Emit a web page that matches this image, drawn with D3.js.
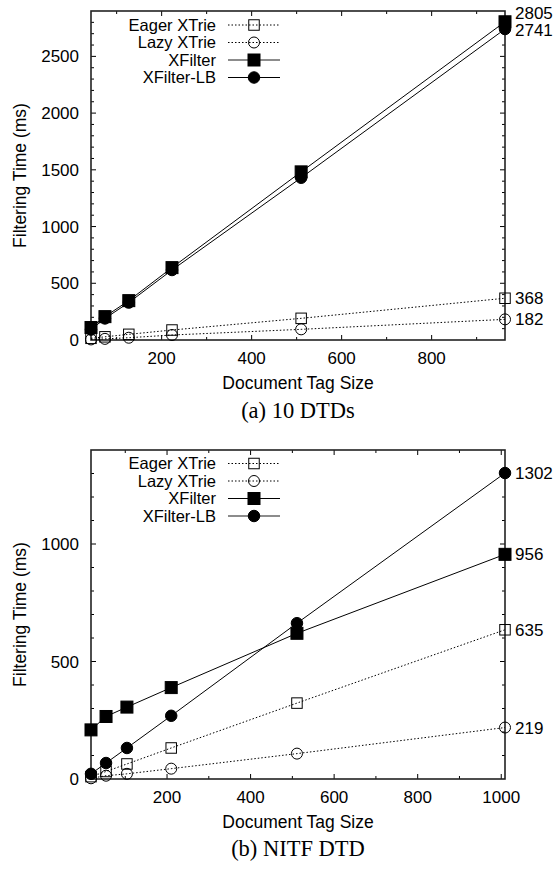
<!DOCTYPE html>
<html><head><meta charset="utf-8">
<script src="https://cdn.jsdelivr.net/npm/d3@7"></script>
<style>
html,body{margin:0;padding:0;background:#fff;}
svg{display:block;}
text{fill:#000;}
</style></head>
<body>
<svg id="chart" width="556" height="869"></svg>
<script>
// ---- data ----
const seriesNames = ["Eager XTrie", "Lazy XTrie", "XFilter", "XFilter-LB"];

const tagSizesA = [43, 74, 127, 223, 510, 963];
const eagerA = [15, 28, 50, 88, 191, 368];
const lazyA = [5, 10, 20, 44, 94, 182];
const xfilterA = [110, 206, 347, 638, 1482, 2805];
const xfilterLBA = [92, 190, 330, 617, 1430, 2741];
const yTicksA = [0, 500, 1000, 1500, 2000, 2500];
const xTicksA = [200, 400, 600, 800];

const tagSizesB = [18, 54, 104, 210, 511, 1009];
const eagerB = [10, 32, 64, 132, 323, 635];
const lazyB = [3, 14, 22, 44, 108, 219];
const xfilterB = [209, 266, 306, 389, 620, 956];
const xfilterLBB = [22, 68, 132, 269, 663, 1302];
const yTicksB = [0, 500, 1000];
const xTicksB = [200, 400, 600, 800, 1000];

const captionA = "(a) 10 DTDs";
const captionB = "(b) NITF DTD";
const xTitle = "Document Tag Size";
const yTitle = "Filtering Time (ms)";

const svg = d3.select("#chart");
const sans = "'Liberation Sans', Arial, sans-serif";
const serif = "'Liberation Serif', 'Times New Roman', serif";
const fs = 17;

const styles = [
  {dash: "1.5,2", marker: "square", fill: "none", size: 10.5},
  {dash: "1.5,2", marker: "circle", fill: "none", size: 11},
  {dash: null, marker: "square", fill: "#000", size: 12},
  {dash: null, marker: "circle", fill: "#000", size: 11.5}
];

function drawMarker(g, type, fill, size, x, y) {
  if (type === "square") {
    g.append("rect").attr("x", x - size/2).attr("y", y - size/2)
      .attr("width", size).attr("height", size)
      .attr("fill", fill === "none" ? "none" : fill)
      .attr("stroke", "#000").attr("stroke-width", 1);
  } else {
    g.append("circle").attr("cx", x).attr("cy", y).attr("r", size/2)
      .attr("fill", fill === "none" ? "none" : fill)
      .attr("stroke", "#000").attr("stroke-width", 1);
  }
}

function drawChart(cfg) {
  const g = svg.append("g");
  const L = 91, R = 505, T = cfg.top, B = cfg.bottom;
  const x = d3.scaleLinear().domain(cfg.xDomain).range([L, R]);
  const y = d3.scaleLinear().domain(cfg.yDomain).range([B, T]);

  // ticks (inward, mirrored)
  const xMinor = d3.range(100, cfg.xDomain[1] + 1, 100).filter(v => v >= cfg.xDomain[0] && v <= cfg.xDomain[1]);
  xMinor.forEach(v => {
    const major = v % 200 === 0;
    const len = major ? 5 : 3;
    g.append("line").attr("x1", x(v)).attr("x2", x(v)).attr("y1", B).attr("y2", B - len).attr("stroke", "#000");
    g.append("line").attr("x1", x(v)).attr("x2", x(v)).attr("y1", T).attr("y2", T + len).attr("stroke", "#000");
  });
  const yMinor = d3.range(100, cfg.yDomain[1], 100);
  yMinor.forEach(v => {
    const major = v % 500 === 0;
    const len = major ? 5 : 3;
    g.append("line").attr("x1", L).attr("x2", L + len).attr("y1", y(v)).attr("y2", y(v)).attr("stroke", "#000");
    g.append("line").attr("x1", R).attr("x2", R - len).attr("y1", y(v)).attr("y2", y(v)).attr("stroke", "#000");
  });

  // frame
  g.append("rect").attr("x", L).attr("y", T).attr("width", R - L).attr("height", B - T)
    .attr("fill", "none").attr("stroke", "#222").attr("stroke-width", 1.6);

  // tick labels
  cfg.yTicks.forEach(v => {
    g.append("text").attr("x", 79).attr("y", y(v)).attr("dy", "0.36em")
      .attr("text-anchor", "end").attr("font-family", sans).attr("font-size", fs)
      .text(v);
  });
  cfg.xTicks.forEach(v => {
    g.append("text").attr("x", x(v)).attr("y", B + 18).attr("dy", "0.36em")
      .attr("text-anchor", "middle").attr("font-family", sans).attr("font-size", fs)
      .text(v);
  });

  // axis titles
  g.append("text").attr("transform", `translate(20,${(T + B)/2}) rotate(-90)`)
    .attr("dy", "0.36em").attr("text-anchor", "middle")
    .attr("font-family", sans).attr("font-size", 17.5).text(yTitle);
  g.append("text").attr("x", (L + R)/2).attr("y", B + 43).attr("dy", "0.36em")
    .attr("text-anchor", "middle").attr("font-family", sans).attr("font-size", 17.5).text(xTitle);
  g.append("text").attr("x", (L + R)/2).attr("y", cfg.captionY).attr("dy", "0.36em")
    .attr("text-anchor", "middle").attr("font-family", serif).attr("font-size", 22.5).text(cfg.caption);

  // series
  const line = d3.line().x(d => x(d[0])).y(d => y(d[1]));
  cfg.series.forEach((vals, i) => {
    const st = styles[i];
    const pts = cfg.xs.map((xv, j) => [xv, vals[j]]);
    g.append("path").attr("d", line(pts)).attr("fill", "none")
      .attr("stroke", "#000").attr("stroke-width", 1)
      .attr("stroke-dasharray", st.dash);
    pts.forEach(p => drawMarker(g, st.marker, st.fill, st.size, x(p[0]), y(p[1])));
  });

  // end value labels
  cfg.series.forEach((vals, i) => {
    const v = vals[vals.length - 1];
    g.append("text").attr("x", 515).attr("y", y(v) + (cfg.labelShift[i] || 0)).attr("dy", "0.36em")
      .attr("font-family", sans).attr("font-size", fs).text(v);
  });

  // legend
  const legY = cfg.legendY;
  seriesNames.forEach((name, i) => {
    const st = styles[i];
    const ly = legY[i];
    g.append("text").attr("x", 216).attr("y", ly).attr("dy", "0.36em")
      .attr("text-anchor", "end").attr("font-family", sans).attr("font-size", 16.5).text(name);
    g.append("line").attr("x1", 228).attr("x2", 280).attr("y1", ly).attr("y2", ly)
      .attr("stroke", cfg.legendGray === i ? "#666" : "#000").attr("stroke-width", cfg.legendGray === i ? 1.5 : 1)
      .attr("stroke-dasharray", st.dash);
    drawMarker(g, st.marker, st.fill, st.size, 254, ly);
  });
}

drawChart({
  top: 11, bottom: 340, xDomain: [43, 963], yDomain: [0, 2900],
  xs: tagSizesA, series: [eagerA, lazyA, xfilterA, xfilterLBA],
  yTicks: yTicksA, xTicks: xTicksA, caption: captionA, captionY: 410,
  labelShift: [0, 0, -9, 1], legendY: [25, 42.5, 60, 77.5], legendGray: 2
});
drawChart({
  top: 450, bottom: 779, xDomain: [18, 1009], yDomain: [0, 1400],
  xs: tagSizesB, series: [eagerB, lazyB, xfilterB, xfilterLBB],
  yTicks: yTicksB, xTicks: xTicksB, caption: captionB, captionY: 848,
  labelShift: [0, 0, 0, 0], legendY: [463.5, 481, 498.5, 516], legendGray: 3
});
</script>
</body></html>
